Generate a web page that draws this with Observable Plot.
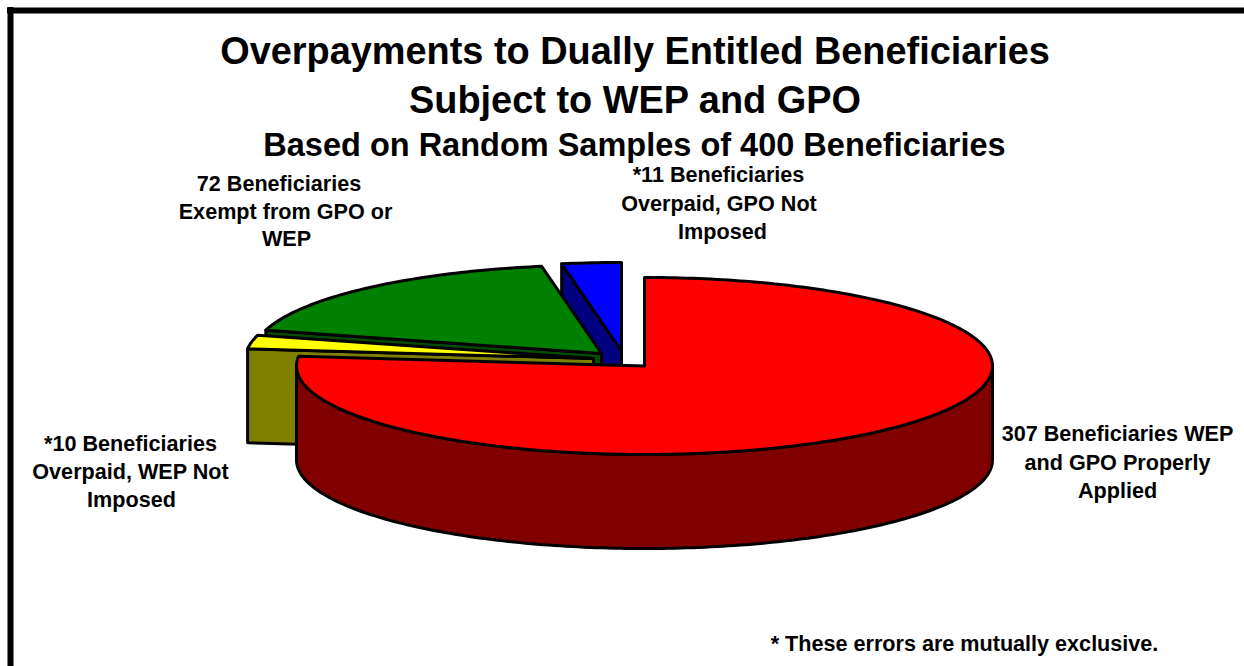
<!DOCTYPE html>
<html>
<head>
<meta charset="utf-8">
<style>html,body{margin:0;padding:0;background:#fff}svg{display:block}</style>
<script src="https://cdn.jsdelivr.net/npm/d3@7"></script>
<script src="https://cdn.jsdelivr.net/npm/@observablehq/plot@0.6"></script>
</head>
<body>
<script>
// Data
const sliceNames = ["WEP and GPO properly applied", "Overpaid, WEP not imposed", "Exempt from GPO or WEP", "Overpaid, GPO not imposed"];
const sliceValues = [307, 10, 72, 11];
const topColors = ["#ff0000", "#ffff00", "#008000", "#0000ff"];
const wallColors = ["#800000", "#808000", "#004d00", "#000080"];

// Layout of the exploded 3D pie
const centerX = [644, 593, 601, 621];
const centerY = [365.5, 358, 353, 350.5];
const radiusX = 348, radiusY = 88.5, depth = 94;

const titleLines = [
  {text: "Overpayments to Dually Entitled Beneficiaries", x: 634.5, y: 51.5, size: 37.9},
  {text: "Subject to WEP and GPO", x: 634.5, y: 100.5, size: 37.9},
  {text: "Based on Random Samples of 400 Beneficiaries", x: 634, y: 145.5, size: 32.5}
];
const labelLines = [
  {text: "72 Beneficiaries", x: 278.5, y: 183.5},
  {text: "Exempt from GPO or", x: 285, y: 211.5},
  {text: "WEP", x: 286, y: 238.5},
  {text: "*11 Beneficiaries", x: 718, y: 174.5},
  {text: "Overpaid, GPO Not", x: 718.5, y: 203.5},
  {text: "Imposed", x: 722, y: 231.5},
  {text: "*10 Beneficiaries", x: 130, y: 443.5},
  {text: "Overpaid, WEP Not", x: 130, y: 471.5},
  {text: "Imposed", x: 131, y: 499.5},
  {text: "307 Beneficiaries WEP", x: 1117, y: 433.5},
  {text: "and GPO Properly", x: 1117, y: 462.5},
  {text: "Applied", x: 1117, y: 490.5},
  {text: "* These errors are mutually exclusive.", x: 964, y: 643.5}
];

// Geometry derived from the values
const total = d3.sum(sliceValues);
const rad = (d) => d * Math.PI / 180;
let running = 0;
const slices = sliceValues.map((v, i) => {
  const start = running / total * 360;
  running += v;
  return {i, start, end: running / total * 360, cx: centerX[i], cy: centerY[i]};
});
const rim = (s, a, dy = 0) => ({x: s.cx + radiusX * Math.sin(rad(a)), y: s.cy - radiusY * Math.cos(rad(a)) + dy});
const sweep = (a0, a1) => {
  const n = Math.max(2, Math.ceil(Math.abs(a1 - a0)));
  return d3.range(n + 1).map((k) => a0 + (a1 - a0) * k / n);
};
const topFace = (s) => {
  const apex = {x: s.cx, y: s.cy};
  return [apex, ...sweep(s.start, s.end).map((a) => rim(s, a)), apex];
};
const radialWall = (s) => {
  const p = rim(s, s.start);
  return [{x: s.cx, y: s.cy}, p, {x: p.x, y: p.y + depth}, {x: s.cx, y: s.cy + depth}, {x: s.cx, y: s.cy}];
};
const outerWall = (s) => {
  const a0 = Math.max(s.start, 90), a1 = Math.min(s.end, 270);
  if (a1 <= a0) return null;
  const arc = sweep(a0, a1);
  const upper = arc.map((a) => rim(s, a));
  const lower = arc.slice().reverse().map((a) => rim(s, a, depth));
  return [...upper, ...lower, upper[0]];
};
const face = (pts, fill) => Plot.line(pts, {x: "x", y: "y", fill, stroke: "black", strokeWidth: 3, strokeLinejoin: "round"});

// Paint from the back slice forward
const marks = [];
for (const i of [3, 2, 1, 0]) {
  const s = slices[i];
  if (s.start > 180) marks.push(face(radialWall(s), wallColors[i]));
  const wall = outerWall(s);
  if (wall) marks.push(face(wall, wallColors[i]));
  marks.push(face(topFace(s), topColors[i]));
}

const chart = Plot.plot({
  width: 1244,
  height: 666,
  margin: 0,
  x: {domain: [0, 1244], range: [0, 1244], axis: null},
  y: {domain: [0, 666], range: [0, 666], axis: null},
  style: {background: "#fff"},
  marks: [
    Plot.ruleY([10], {stroke: "black", strokeWidth: 6, x1: 7, x2: 1244}),
    Plot.ruleX([10], {stroke: "black", strokeWidth: 6, y1: 7, y2: 666}),
    ...marks,
    Plot.text(titleLines, {x: "x", y: "y", text: "text", fontSize: "size", fontWeight: "bold", fontFamily: "Liberation Sans", fill: "black", lineAnchor: "middle"}),
    Plot.text(labelLines, {x: "x", y: "y", text: "text", fontSize: 21.6, fontWeight: "bold", fontFamily: "Liberation Sans", fill: "black", lineAnchor: "middle"})
  ]
});
document.body.appendChild(chart);
</script>
</body>
</html>
